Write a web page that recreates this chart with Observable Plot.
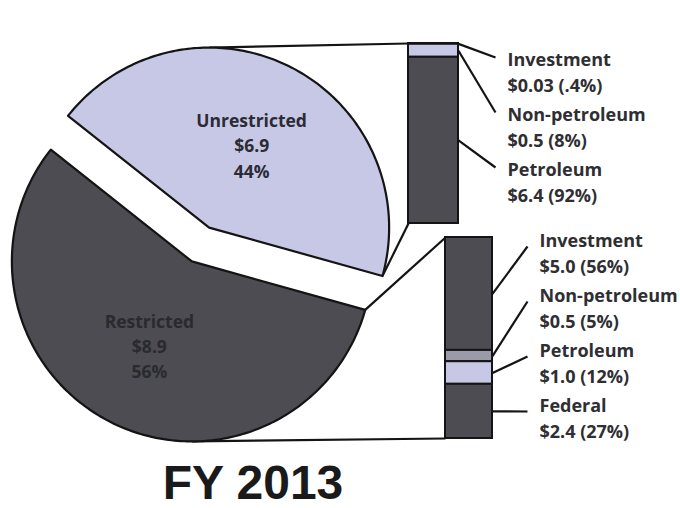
<!DOCTYPE html>
<html>
<head>
<meta charset="utf-8">
<script src="https://cdn.jsdelivr.net/npm/d3@7"></script>
<script src="https://cdn.jsdelivr.net/npm/@observablehq/plot@0.6"></script>
<style>
  html, body { margin: 0; padding: 0; background: #fff; }
  #chart svg { display: block; }
  #title { width: 506px; height: 56px; line-height: 56px; padding-top: 3px; text-align: center;
           font-family: "Liberation Sans", Arial, sans-serif; font-weight: bold; font-size: 48px; color: #1a1a1a; }
</style>
</head>
<body>
<div id="chart"></div>
<div id="title">FY 2013</div>
<script>
// ---- data ----
const pieLabels = ["Unrestricted", "Restricted"];
const pieValues = [6.9, 8.9];
const piePct = ["44%", "56%"];

const unrestrictedCats = ["Investment", "Non-petroleum", "Petroleum"];
const unrestrictedValues = [0.03, 0.5, 6.4];
const unrestrictedPct = [".4%", "8%", "92%"];

const restrictedCats = ["Investment", "Non-petroleum", "Petroleum", "Federal"];
const restrictedValues = [5.0, 0.5, 1.0, 2.4];
const restrictedPct = ["56%", "5%", "12%", "27%"];

// ---- layout & style ----
const W = 680, H = 452;
const DARK = "#4c4c52", LAV = "#c7c7e6", MID = "#9a9aa9", INK = "#141414";
const FONT = "'Open Sans', Lato, sans-serif";
const pie = {cx: 200, cy: 244, r: 180, explode: 19, start: -51.6 * Math.PI / 180};
const bars = {
  Unrestricted: {x1: 408, x2: 458, top: 43, bottom: 223, colors: [DARK, LAV, DARK],
                 lineX: 495, labelX: 507, labelFirst: 57, lineDy: 0, cats: unrestrictedCats, vals: unrestrictedValues, pct: unrestrictedPct},
  Restricted:   {x1: 445, x2: 492, top: 237, bottom: 438, colors: [DARK, MID, LAV, DARK],
                 lineX: 527, labelX: 539, labelFirst: 238, lineDy: 8, cats: restrictedCats, vals: restrictedValues, pct: restrictedPct}
};
const labelStep = 55;
const fmt = v => "$" + (v < 0.1 ? v.toFixed(2) : v.toFixed(1));

// ---- pie geometry from data ----
const arcs = d3.pie().sort(null).startAngle(pie.start).endAngle(pie.start + 2 * Math.PI)(pieValues);
const pt = (cx, cy, r, a) => [cx + r * Math.sin(a), cy - r * Math.cos(a)];
const slices = arcs.map((a, i) => {
  const mid = (a.startAngle + a.endAngle) / 2;
  const [ox, oy] = pt(pie.cx, pie.cy, pie.explode, mid);
  const n = Math.ceil((a.endAngle - a.startAngle) / (Math.PI / 180));
  const pts = [{x: ox, y: oy}];
  for (let k = 0; k <= n; k++) {
    const ang = a.startAngle + (a.endAngle - a.startAngle) * k / n;
    const [x, y] = pt(ox, oy, pie.r, ang);
    pts.push({x, y});
  }
  const [lx, ly] = pt(ox, oy, pie.r * 0.52, mid);
  return {name: pieLabels[i], pts, ox, oy, a, lx, ly,
          label: `${pieLabels[i]}\n$${pieValues[i].toFixed(1)}\n${piePct[i]}`};
});
const slicePts = slices.flatMap(s => s.pts.map(p => ({...p, name: s.name})));

// ---- stacked bars from data ----
const segs = [], leaders = [], labels = [];
for (const key of Object.keys(bars)) {
  const b = bars[key];
  const total = d3.sum(b.vals);
  const ys = d3.scaleLinear().domain([0, total]).range([b.top, b.bottom]);
  let cum = 0;
  b.vals.forEach((v, i) => {
    const y1 = ys(cum), y2 = ys(cum + v);
    cum += v;
    segs.push({x1: b.x1, x2: b.x2, y1, y2, fill: b.colors[i]});
    const ly = b.labelFirst + i * labelStep;
    leaders.push({x1: b.x2, y1: (y1 + y2) / 2, x2: b.lineX, y2: ly + b.lineDy});
    labels.push({x: b.labelX, y: ly + 13, text: `${b.cats[i]}\n${fmt(v)} (${b.pct[i]})`});
  });
}

// ---- connectors between pie slices and bars ----
const U = slices[0], R = slices[1];
const connectors = [];
{
  const b = bars.Unrestricted;
  const [tx, ty] = pt(U.ox, U.oy, pie.r, 0);
  connectors.push({x1: tx, y1: ty, x2: b.x1, y2: b.top});
  const [ex, ey] = pt(U.ox, U.oy, pie.r, U.a.endAngle);
  connectors.push({x1: ex, y1: ey, x2: b.x1, y2: b.bottom});
}
{
  const b = bars.Restricted;
  const [sx, sy] = pt(R.ox, R.oy, pie.r, R.a.startAngle);
  connectors.push({x1: sx, y1: sy, x2: b.x1, y2: b.top});
  const [bx, by] = pt(R.ox, R.oy, pie.r, Math.PI);
  connectors.push({x1: bx, y1: by, x2: b.x1, y2: b.bottom});
}

const plot = Plot.plot({
  width: W, height: H,
  margin: 0,
  x: {domain: [0, W], range: [0, W], axis: null},
  y: {domain: [0, H], range: [0, H], axis: null},
  style: {background: "#fff"},
  marks: [
    Plot.link(connectors, {x1: "x1", y1: "y1", x2: "x2", y2: "y2", stroke: INK, strokeWidth: 2.2}),
    Plot.line(slicePts, {x: "x", y: "y", z: "name", curve: "linear-closed",
      fill: d => d.name === "Unrestricted" ? LAV : DARK, stroke: INK, strokeWidth: 2.2, strokeLinejoin: "round"}),
    Plot.text(slices, {x: "lx", y: "ly", text: "label", lineHeight: 1.45, fontSize: 17.5, fontWeight: "bold",
      fontFamily: FONT, fill: d => d.name === "Unrestricted" ? "#2b2b33" : "#2a2a2e"}),
    Plot.rect(segs, {x1: "x1", x2: "x2", y1: "y1", y2: "y2", fill: "fill", stroke: INK, strokeWidth: 2}),
    Plot.link(leaders, {x1: "x1", y1: "y1", x2: "x2", y2: "y2", stroke: INK, strokeWidth: 2.2}),
    Plot.text(labels, {x: "x", y: "y", text: "text", textAnchor: "start", lineHeight: 1.45, fontSize: 18,
      fontWeight: "bold", fontFamily: FONT, fill: "#2e2e33"})
  ]
});
document.getElementById("chart").appendChild(plot);
</script>
</body>
</html>
